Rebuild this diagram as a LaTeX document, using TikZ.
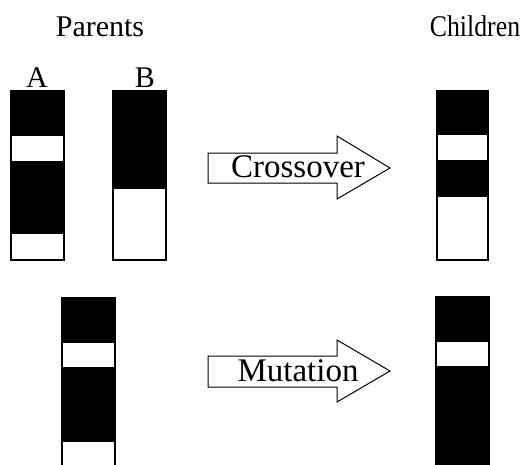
\documentclass[tikz,border=0pt]{standalone}
\usepackage{graphicx}
\usepackage{fontspec}
\setmainfont{Liberation Serif}
\begin{document}
\begin{tikzpicture}[x=1pt,y=-1pt,
  chrom/.style={draw=black, line width=1.1pt},
  gene/.style={fill=black},
  lbl/.style={font=\fontsize{30}{36}\selectfont, inner sep=0pt, anchor=base},
  oplabel/.style={font=\fontsize{33}{40}\selectfont, inner sep=0pt, anchor=base},
  flowarrow/.style={draw=black, line width=1pt, fill=white, line join=miter}]
\useasboundingbox (0,0) rectangle (521,464);
\clip (0,0) rectangle (521,464);

% column headings
\node[lbl] (parents) at (100,36) {Parents};
\node[lbl] (children) at (475,36) {\scalebox{0.86}[1]{Children}};
\node[lbl] (la) at (37,87) {A};
\node[lbl] (lb) at (145,87) {B};

% parent A
\fill[gene] (11,91) rectangle (64,136);
\fill[gene] (11,161) rectangle (64,234);
\draw[chrom] (11,91) rectangle (64,260);

% parent B
\fill[gene] (113,91) rectangle (166,189);
\draw[chrom] (113,91) rectangle (166,260);

% child from crossover
\fill[gene] (437,91) rectangle (488,135);
\fill[gene] (437,160) rectangle (488,197);
\draw[chrom] (437,91) rectangle (488,260);

% parent for mutation
\fill[gene] (62,298) rectangle (115,343);
\fill[gene] (62,367) rectangle (115,442);
\draw[chrom] (62,298) rectangle (115,480);

% mutated child
\fill[gene] (436,297) rectangle (489,342);
\fill[gene] (436,366) rectangle (489,480);
\draw[chrom] (436,297) rectangle (489,480);

% crossover arrow
\draw[flowarrow] (208,153) -- (337,153) -- (337,136) -- (390,168)
  -- (337,199) -- (337,183) -- (208,183) -- cycle;
\node[oplabel] (xover) at (298,177) {Crossover};

% mutation arrow
\draw[flowarrow] (208,356) -- (337,356) -- (337,340) -- (390,371)
  -- (337,402) -- (337,387) -- (208,387) -- cycle;
\node[oplabel] (mut) at (298,381) {Mutation};
\end{tikzpicture}
\end{document}
